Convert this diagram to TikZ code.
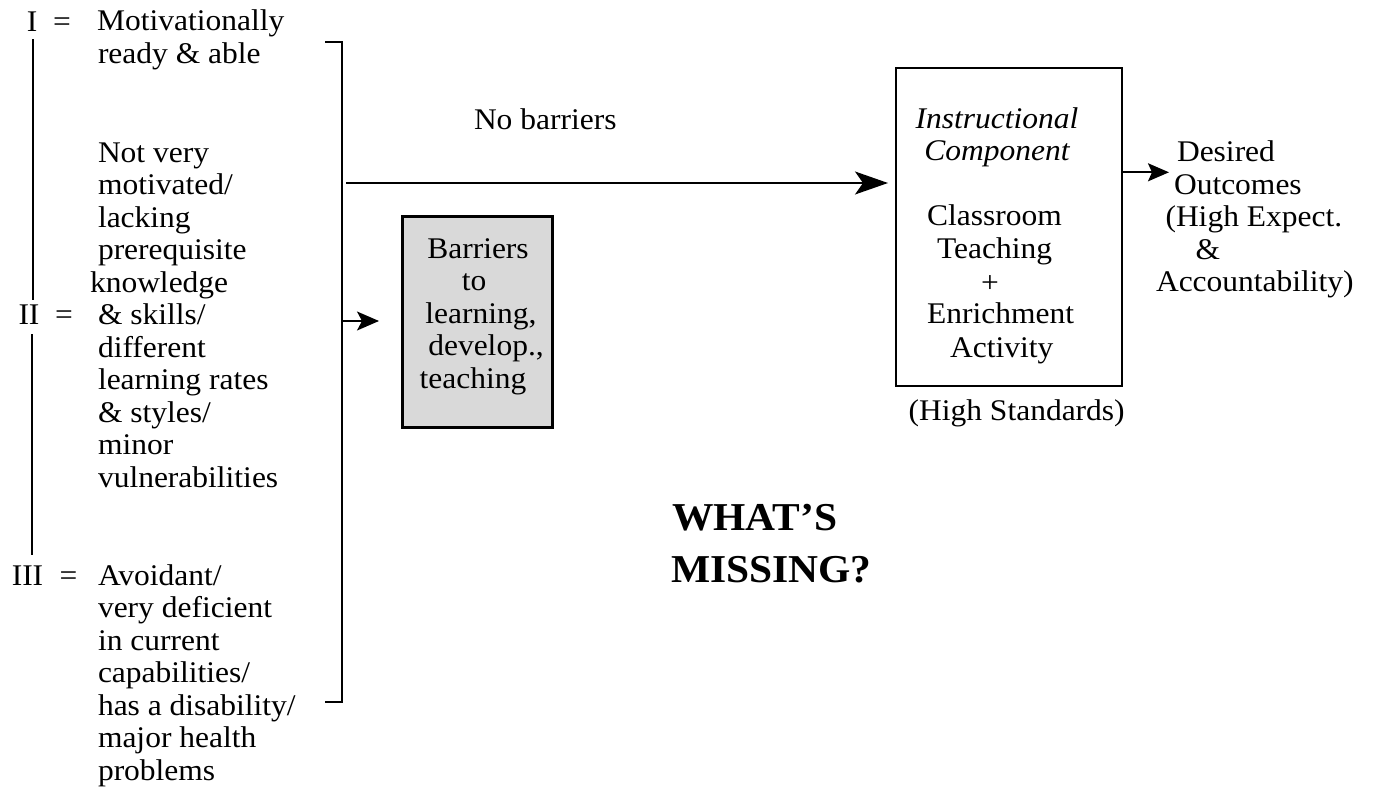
\documentclass[tikz,border=0pt]{standalone}
\usepackage{fontspec}
\setmainfont{Liberation Serif}[FakeStretch=1.05]
\usetikzlibrary{arrows.meta}
\begin{document}
\begin{tikzpicture}[x=1pt,y=-1pt,
  txt/.style={inner sep=0pt, outer sep=0pt, font=\fontsize{30}{32.5}\selectfont},
  lw/.style={txt, anchor=base west},
  lc/.style={txt, anchor=base},
  big/.style={inner sep=0pt, outer sep=0pt, anchor=base west, font=\fontsize{39.5}{45}\selectfont\bfseries},
  rule/.style={line width=2pt},
  bracketline/.style={line width=2.5pt},
  flow/.style={line width=1.5pt},
  bigtip/.style={-{Stealth[length=33pt,width=23pt,inset=8pt]}},
  smalltip/.style={-{Stealth[length=22pt,width=19pt,inset=5pt]}},
  barrierbox/.style={draw, line width=3pt, fill=gray!30, minimum width=149.5pt, minimum height=211pt, inner sep=0pt},
  instrbox/.style={draw, line width=2pt, minimum width=226pt, minimum height=318pt, inner sep=0pt}
]
\useasboundingbox (0,0) rectangle (1374,790);

% roman numerals and equals signs
\node[lc] (r1) at (32,31) {I};
\node[lc] (e1) at (62,31) {=};
\node[lc] (r2) at (29,324.5) {II};
\node[lc] (e2) at (64,324.5) {=};
\node[lc] (r3) at (27.5,585) {III};
\node[lc] (e3) at (68.5,585) {=};

% vertical lines between levels
\draw[rule] (33,39) -- (33,300);
\draw[rule] (32,334) -- (32,555);

% group I
\node[lw] (g1a) at (97,30) {Motivationally};
\node[lw] (g1b) at (98,63) {ready \& able};

% group II
\node[lw] (g2a) at (98,162) {Not very};
\node[lw] (g2b) at (98,194.5) {motivated/};
\node[lw] (g2c) at (98,227) {lacking};
\node[lw] (g2d) at (98,259.5) {prerequisite};
\node[lw] (g2e) at (90,292) {knowledge};
\node[lw] (g2f) at (98,324.5) {\& skills/};
\node[lw] (g2g) at (98,357) {different};
\node[lw] (g2h) at (98,389.5) {learning rates};
\node[lw] (g2i) at (98,422) {\& styles/};
\node[lw] (g2j) at (98,454.5) {minor};
\node[lw] (g2k) at (98,487) {vulnerabilities};

% group III
\node[lw] (g3a) at (98,585) {Avoidant/};
\node[lw] (g3b) at (98,617.5) {very deficient};
\node[lw] (g3c) at (98,650) {in current};
\node[lw] (g3d) at (98,682.5) {capabilities/};
\node[lw] (g3e) at (98,715) {has a disability/};
\node[lw] (g3f) at (98,747.5) {major health};
\node[lw] (g3g) at (98,780) {problems};

% bracket
\coordinate (bt) at (342,42);
\coordinate (bb) at (342,702);
\coordinate (bmain) at (342,183);
\coordinate (bbar) at (342,321);
\draw[bracketline] (325,42) -- (bt) -- (bb) -- (325,702);

% barriers box
\node[barrierbox] (barrier) at (477.25,321.5) {};
\node[lc] (ba1) at (478,258) {Barriers};
\node[lc] (ba2) at (474,290.5) {to};
\node[lc] (ba3) at (481,323) {learning,};
\node[lc] (ba4) at (486,355.5) {develop.,};
\node[lc] (ba5) at (473,388) {teaching};

% instructional component box
\node[instrbox] (instr) at (1009,227) {};
\node[lc, font=\fontsize{30}{32.5}\selectfont\itshape] (in1) at (997,128) {Instructional};
\node[lc, font=\fontsize{30}{32.5}\selectfont\itshape] (in2) at (997,160) {Component};
\node[lc] (in3) at (994.5,225) {Classroom};
\node[lc] (in4) at (994.5,258) {Teaching};
\node[lc] (in5) at (990,292) {+};
\node[lc] (in6) at (1000.5,323) {Enrichment};
\node[lc] (in7) at (1001.7,357) {Activity};
\node[lc] (hs) at (1016.7,420) {(High Standards)};

% no barriers label
\node[lw] (nob) at (474,129) {No barriers};

% desired outcomes
\node[lw] (do1) at (1177,161.7) {Desired};
\node[lw] (do2) at (1174,194.2) {Outcomes};
\node[lw] (do3) at (1165.5,226.7) {(High Expect.};
\node[lw] (do4) at (1195.5,259.2) {\&};
\node[lw] (do5) at (1156,291.7) {Accountability)};

% what's missing
\node[big] (what) at (672,530) {WHAT’S};
\node[big] (miss) at (671,582) {MISSING?};

% connectors
\draw[flow, bigtip, shorten <=4pt, shorten >=7pt] (bmain) -- (bmain -| instr.west);
\draw[flow, smalltip, shorten >=22pt] (bbar) -- (bbar -| barrier.west);
\coordinate (outtip) at (1169,172.3);
\draw[flow, line width=1.8pt, -{Stealth[length=21pt,width=18pt,inset=4pt]}] (instr.east |- outtip) -- (outtip);
\end{tikzpicture}
\end{document}
